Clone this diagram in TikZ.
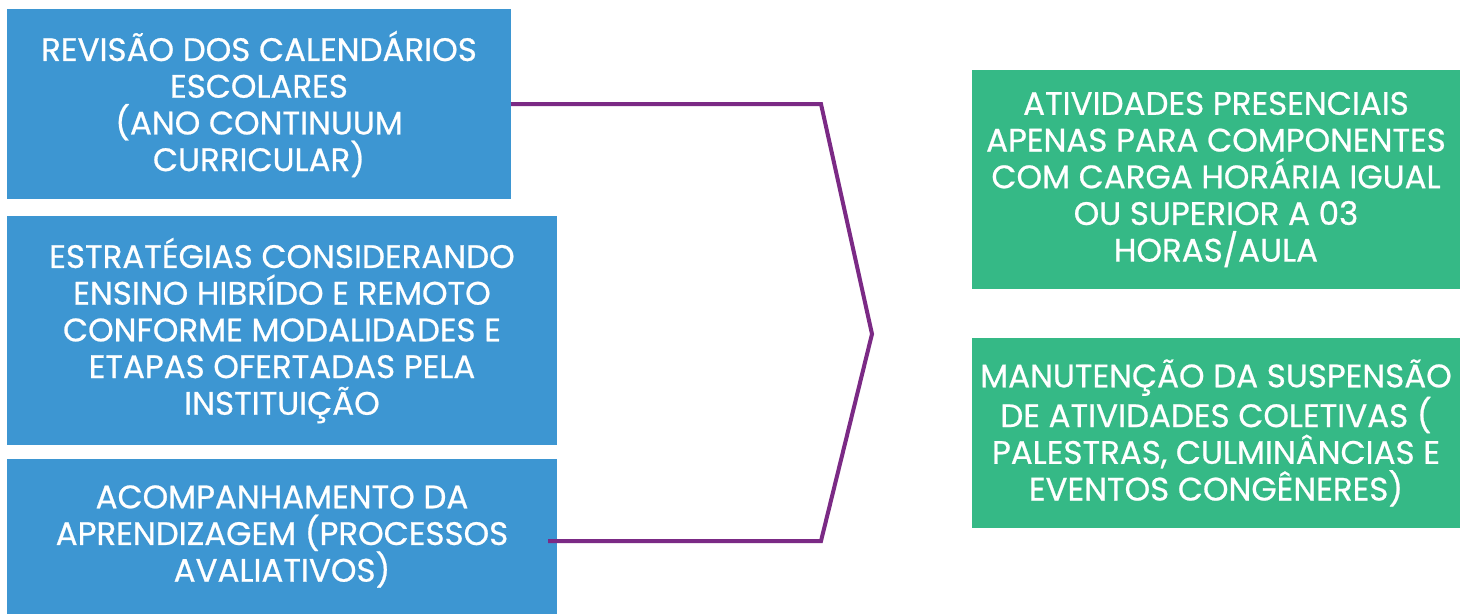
\documentclass[tikz,border=0pt]{standalone}
\usepackage{fontspec}
\setmainfont{Poppins}[FakeBold=0.7]
\definecolor{boxblue}{HTML}{3D96D2}
\definecolor{boxgreen}{HTML}{35B986}
\definecolor{linepurple}{HTML}{7B2A85}
\begin{document}
\begin{tikzpicture}[x=1pt,y=-1pt,
  card/.style={rectangle, inner sep=0pt, text=white, align=center,
    font=\fontsize{32.5}{36.7}\selectfont},
  bluecard/.style={card, fill=boxblue},
  greencard/.style={card, fill=boxgreen},
  link/.style={draw=linepurple, line width=4pt, line join=miter}]
\useasboundingbox[fill=white] (0,0) rectangle (1460,614);
\node[bluecard, minimum width=504pt, minimum height=190pt] (b1) at (259,104)
  {REVISÃO DOS CALENDÁRIOS\\ESCOLARES\\(ANO CONTINUUM\\CURRICULAR)};
\node[bluecard, minimum width=550pt, minimum height=229pt] (b2) at (282,330.5)
  {ESTRATÉGIAS CONSIDERANDO\\ENSINO HIBRÍDO E REMOTO\\CONFORME MODALIDADES E\\ETAPAS OFERTADAS PELA\\INSTITUIÇÃO};
\node[bluecard, minimum width=550pt, minimum height=155pt] (b3) at (282,536.5)
  {ACOMPANHAMENTO DA\\APRENDIZAGEM (PROCESSOS\\AVALIATIVOS)};
\node[greencard, minimum width=488pt, minimum height=219pt] (g1) at (1216,179.5)
  {ATIVIDADES PRESENCIAIS\\APENAS PARA COMPONENTES\\COM CARGA HORÁRIA IGUAL\\OU SUPERIOR A 03\\HORAS/AULA};
\node[greencard, minimum width=488pt, minimum height=190pt] (g2) at (1216,433)
  {MANUTENÇÃO DA SUSPENSÃO\\DE ATIVIDADES COLETIVAS (\\PALESTRAS, CULMINÂNCIAS E\\EVENTOS CONGÊNERES)};
\coordinate (k1) at (821,104);
\coordinate (tip) at (872,334);
\coordinate (k2) at (821,541);
\coordinate (s3) at (548,541);
\draw[link] (b1.east) -- (k1) -- (tip) -- (k2) -- (s3);
\end{tikzpicture}
\end{document}
